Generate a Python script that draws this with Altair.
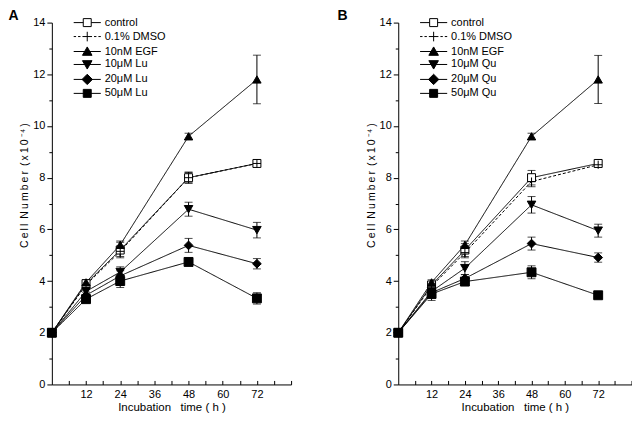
import altair as alt
import pandas as pd

# ---------------- data ----------------
times = [0, 12, 24, 48, 72]

series_a = ["control", "0.1% DMSO", "10nM EGF", "10μM Lu", "20μM Lu", "50μM Lu"]
series_b = ["control", "0.1% DMSO", "10nM EGF", "10μM Qu", "20μM Qu", "50μM Qu"]

# Panel A (luteolin)
a_control = [2.0, 3.90, 5.20, 8.00, 8.55]
a_dmso    = [2.0, 3.85, 5.15, 8.00, 8.55]
a_egf     = [2.0, 3.95, 5.40, 9.60, 11.80]
a_lu10    = [2.0, 3.60, 4.35, 6.78, 5.97]
a_lu20    = [2.0, 3.45, 4.20, 5.38, 4.67]
a_lu50    = [2.0, 3.30, 4.00, 4.74, 3.33]

a_control_err = [0.05, 0.10, 0.30, 0.22, 0.12]
a_dmso_err    = [0.05, 0.10, 0.20, 0.20, 0.10]
a_egf_err     = [0.05, 0.10, 0.15, 0.12, 0.94]
a_lu10_err    = [0.05, 0.12, 0.20, 0.27, 0.30]
a_lu20_err    = [0.05, 0.12, 0.20, 0.27, 0.20]
a_lu50_err    = [0.05, 0.12, 0.25, 0.10, 0.22]

# Panel B (quercetin)
b_control = [2.0, 3.85, 5.20, 8.00, 8.55]
b_dmso    = [2.0, 3.80, 5.10, 7.85, 8.50]
b_egf     = [2.0, 3.95, 5.40, 9.60, 11.80]
b_qu10    = [2.0, 3.60, 4.50, 6.95, 5.95]
b_qu20    = [2.0, 3.55, 4.10, 5.45, 4.91]
b_qu50    = [2.0, 3.50, 3.98, 4.34, 3.45]

b_control_err = [0.05, 0.10, 0.25, 0.28, 0.10]
b_dmso_err    = [0.05, 0.10, 0.20, 0.20, 0.10]
b_egf_err     = [0.05, 0.10, 0.15, 0.12, 0.93]
b_qu10_err    = [0.05, 0.15, 0.25, 0.32, 0.25]
b_qu20_err    = [0.05, 0.15, 0.15, 0.25, 0.18]
b_qu50_err    = [0.05, 0.25, 0.10, 0.25, 0.07]

x_ticks = [6, 12, 18, 24, 30, 36, 42, 48, 54, 60, 66, 72, 78, 84]
y_ticks = list(range(0, 15))

NB = "\u00a0"
TH = "\u2009"
x_title = "Incubation" + NB * 3 + "time" + NB + "(" + NB + "h" + NB + ")"
y_title = (TH.join("Cell") + NB + TH + TH.join("Number") + NB + TH
           + TH.join("(x10") + TH + "⁻⁴" + TH + ")")

# ---------------- styles ----------------
FONT = "Liberation Sans"
plot_shapes = ["square", "M-1,0H1M0,-1V1", "triangle-up", "triangle-down", "diamond", "square"]
legend_shapes = [
    "M-3.4,0H-1M1,0H3.4M-1,-1H1V1H-1Z",
    "M-3.4,0H-2.8M-2.3,0H-1.7M-1.2,0H1.2M1.7,0H2.3M2.8,0H3.4M0,-1.2V1.2",
    "M-3.4,0H3.4M-1.2,0.95L0,-1.15L1.2,0.95Z",
    "M-3.4,0H3.4M-1.2,-0.95L0,1.15L1.2,-0.95Z",
    "M-3.4,0H3.4M-1.3,0L0,-1.3L1.3,0L0,1.3Z",
    "M-3.4,0H3.4M-1,-1H1V1H-1Z",
]
fills = ["white", "black", "black", "black", "black", "black"]
strokes = ["black"] * 6
sizes = [64, 80, 90, 90, 81, 64]
dashes = [[1, 0], [3, 2], [1, 0], [1, 0], [1, 0], [1, 0]]

PLOT_H = 363


def panel(series, vals, errs, letter, dx, width):
    rows = []
    for i, s in enumerate(series):
        for t, v, e in zip(times, vals[i], errs[i]):
            rows.append(dict(series=s, order=i, time=t, value=v, lo=v - e, hi=v + e))
    df = pd.DataFrame(rows)
    base = alt.Chart(df)

    xaxis = alt.Axis(
        values=x_ticks,
        labelExpr="(datum.value % 12 == 0 && datum.value < 84) ? datum.value : ''",
        tickSize={"expr": "-4"}, grid=False, labelFontSize=11, titleFontSize=11.5,
        labelFont=FONT, titleFont=FONT, labelColor="black", titleColor="black",
        titleFontWeight="normal", domainColor="black", tickColor="black",
        labelPadding=8, titlePadding=2, labelFlush=False, labelOverlap=False,
    )
    yaxis = alt.Axis(
        values=y_ticks,
        labelExpr="datum.value % 2 == 0 ? datum.value : ''",
        tickSize={"condition": {"test": "datum.value % 2 == 0", "value": 5}, "value": 3},
        grid=False, labelFontSize=11, titleFontSize=10.5,
        labelFont=FONT, titleFont=FONT, labelColor="black", titleColor="black",
        titleFontWeight="normal", domainColor="black", tickColor="black",
        labelPadding=2, labelFlush=False, labelOverlap=False,
        titleX=-22, titleY=163,
    )
    xs = alt.Scale(domain=[0, 84], nice=False, zero=False)
    ys = alt.Scale(domain=[0, 14], nice=False)

    X = alt.X("time:Q", scale=xs, axis=xaxis, title=x_title)

    def Y(f):
        return alt.Y(f + ":Q", scale=ys, axis=yaxis, title=y_title)

    rules = base.mark_rule(color="black", strokeWidth=1).encode(x=X, y=Y("lo"), y2="hi:Q")
    cap_lo = base.mark_tick(color="black", orient="horizontal", size=8, thickness=1).encode(x=X, y=Y("lo"))
    cap_hi = base.mark_tick(color="black", orient="horizontal", size=8, thickness=1).encode(x=X, y=Y("hi"))

    lines = base.mark_line(color="black", strokeWidth=1).encode(
        x=X, y=Y("value"), detail="series:N",
        strokeDash=alt.StrokeDash("series:N", scale=alt.Scale(domain=series, range=dashes), legend=None),
        order="time:Q",
    )
    points = base.mark_point(filled=False, stroke="black", strokeWidth=1, opacity=1).encode(
        x=X, y=Y("value"),
        shape=alt.Shape("series:N", scale=alt.Scale(domain=series, range=plot_shapes), legend=None),
        fill=alt.Fill("series:N", scale=alt.Scale(domain=series, range=fills), legend=None),
        size=alt.Size("series:N", scale=alt.Scale(domain=series, range=sizes), legend=None),
        order="order:Q",
    )
    leg = alt.Legend(
        orient="none", legendX=30, legendY=-5.5, title=None, symbolSize=64,
        symbolStrokeWidth=1, labelFontSize=11,
        labelFont=FONT, labelColor="black", labelOffset=12, rowPadding=0,
        padding=0, labelLimit=200,
    )
    legend_layer = base.transform_filter("datum.time == 0").mark_point(
        size=0, filled=True, stroke="black", strokeWidth=1, opacity=1
    ).encode(
        x=X, y=Y("value"),
        shape=alt.Shape("series:N", scale=alt.Scale(domain=series, range=legend_shapes), legend=leg),
        fill=alt.Fill("series:N", scale=alt.Scale(domain=series, range=fills), legend=leg),
        stroke=alt.Stroke("series:N", scale=alt.Scale(domain=series, range=strokes), legend=leg),
    )
    return alt.layer(rules, cap_lo, cap_hi, lines, points, legend_layer).resolve_scale(
        shape="independent", fill="independent", stroke="independent"
    ).properties(
        width=width, height=PLOT_H,
        title=alt.TitleParams(letter, anchor="start", frame="group", fontSize=14,
                              fontWeight="bold", font=FONT, color="black", dx=dx, offset=-6.5),
    )


A = panel(series_a, [a_control, a_dmso, a_egf, a_lu10, a_lu20, a_lu50],
          [a_control_err, a_dmso_err, a_egf_err, a_lu10_err, a_lu20_err, a_lu50_err], "A", -43.5, 240)
B = panel(series_b, [b_control, b_dmso, b_egf, b_qu10, b_qu20, b_qu50],
          [b_control_err, b_dmso_err, b_egf_err, b_qu10_err, b_qu20_err, b_qu50_err], "B", -61, 234)

chart = alt.hconcat(A, B, spacing=45.5).resolve_scale(
    shape="independent", fill="independent", stroke="independent",
    size="independent", strokeDash="independent",
).properties(
    padding={"left": 0, "top": 0, "right": 0, "bottom": 0}
).configure_view(stroke=None)

chart.save("out.html", embed_options={"renderer": "svg", "actions": False})
